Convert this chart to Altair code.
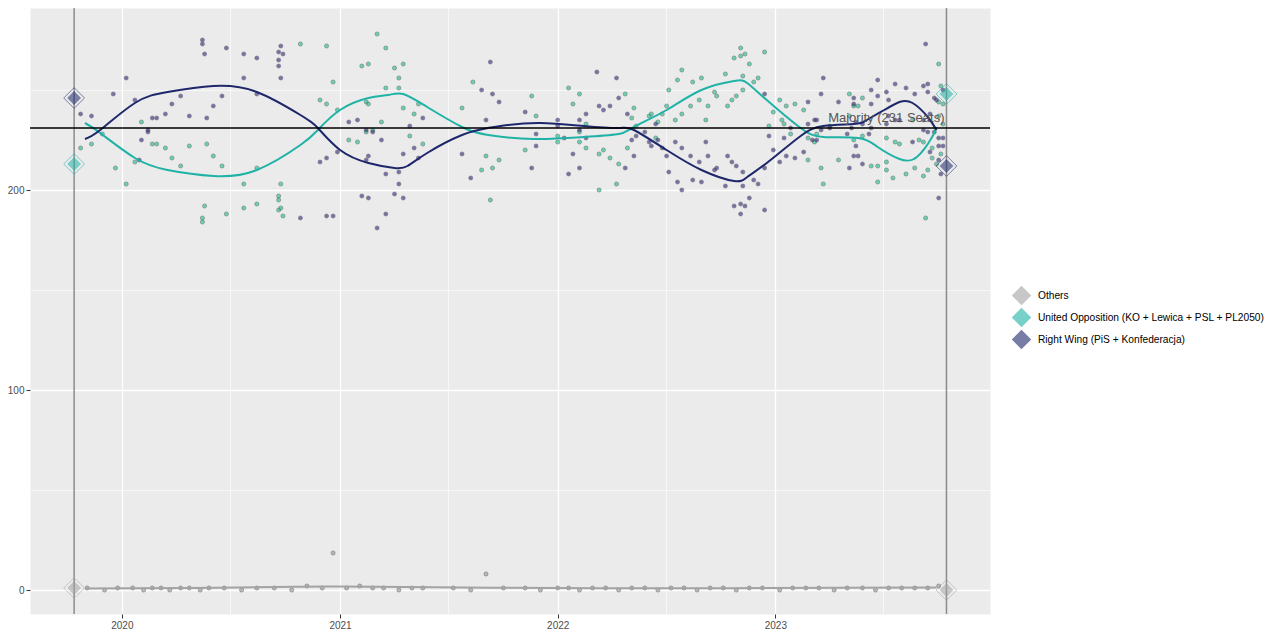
import altair as alt
import pandas as pd

OTH = "Others"
UO = "United Opposition (KO + Lewica + PSL + PL2050)"
RW = "Right Wing (PiS + Konfederacja)"
parties = [OTH, UO, RW]
line_colors = ["#a3a3a3", "#1fb3a6", "#1e276b"]
point_fills = ["#9a9a9a", "#1fc795", "#3b2f8a"]

# poll dates as decimal years, seat projections
rw_t = [2019.81, 2019.86, 2019.96, 2020.02, 2020.06, 2020.09, 2020.12, 2020.12, 2020.08, 2020.14,
        2020.16, 2020.20, 2020.23, 2020.27, 2020.31, 2020.37, 2020.37, 2020.38, 2020.39, 2020.42,
        2020.46, 2020.48, 2020.56, 2020.56, 2020.62, 2020.62, 2020.72, 2020.73, 2020.74, 2020.72,
        2020.72, 2020.73, 2020.82, 2020.91, 2020.94, 2020.94, 2020.97, 2020.99, 2021.04, 2021.08,
        2021.12, 2021.15, 2021.13, 2021.12, 2021.19, 2021.21, 2021.27, 2021.27, 2021.29, 2021.32,
        2021.34, 2021.36, 2021.38, 2021.10, 2021.13, 2021.25, 2021.29, 2021.21, 2021.17, 2021.69,
        2021.65, 2021.70, 2021.73, 2021.67, 2021.56, 2021.60, 2021.85, 2021.90, 2021.90, 2021.88,
        2022.00, 2022.00, 2022.03, 2022.10, 2022.13, 2022.10, 2022.13, 2022.07, 2022.05, 2022.10,
        2022.18, 2022.19, 2022.27, 2022.21, 2022.24, 2022.28, 2022.32, 2022.34, 2022.35, 2022.31,
        2022.36, 2022.40, 2022.42, 2022.43, 2022.45, 2022.46, 2022.48, 2022.50, 2022.51, 2022.54,
        2022.55, 2022.57, 2022.57, 2022.61, 2022.62, 2022.65, 2022.66, 2022.68, 2022.69, 2022.72,
        2022.73, 2022.78, 2022.80, 2022.82, 2022.85, 2022.85, 2022.90, 2022.92, 2022.77, 2022.81,
        2022.84, 2022.86, 2022.88, 2022.84, 2022.95, 2022.97, 2022.99, 2022.95, 2022.95, 2023.22,
        2023.21, 2023.29, 2023.15, 2023.18, 2023.19, 2023.15, 2023.07, 2023.04, 2023.05, 2023.09,
        2023.13, 2023.02, 2023.17, 2023.19, 2023.36, 2023.44, 2023.47, 2023.51, 2023.55, 2023.60,
        2023.64, 2023.68, 2023.70, 2023.69, 2023.70, 2023.73, 2023.74, 2023.77, 2023.47, 2023.52,
        2023.44, 2023.36, 2023.37, 2023.35, 2023.40, 2023.44, 2023.43, 2023.51, 2023.55, 2023.57,
        2023.52, 2023.33, 2023.37, 2023.36, 2023.38, 2023.34, 2023.40, 2023.63, 2023.68, 2023.70,
        2023.73, 2023.75, 2023.77, 2023.75, 2023.77, 2023.71, 2023.75, 2023.76, 2023.75, 2023.71,
        2023.68, 2023.25, 2023.21]
rw_v = [238, 237, 248, 256, 245, 225, 230, 229, 215, 236,
        236, 238, 243, 247, 237, 275, 273, 268, 236, 242,
        247, 271, 268, 256, 266, 248, 269, 272, 268, 265,
        262, 256, 186, 214, 216, 187, 187, 219, 234, 235,
        230, 229, 217, 215, 225, 208, 209, 203, 218, 232,
        221, 216, 236, 197, 196, 198, 196, 188, 181, 264,
        250, 248, 244, 235, 218, 206, 239, 228, 222, 211,
        235, 232, 226, 235, 238, 230, 226, 218, 208, 211,
        259, 242, 256, 240, 242, 246, 238, 225, 217, 211,
        227, 229, 224, 222, 233, 225, 221, 217, 209, 224,
        204, 200, 221, 217, 205, 214, 204, 224, 217, 210,
        211, 217, 214, 212, 209, 202, 205, 203, 202, 192,
        193, 192, 196, 188, 190, 227, 220, 211, 248, 256,
        248, 244, 244, 235, 235, 233, 231, 226, 217, 216,
        219, 214, 225, 225, 246, 250, 255, 249, 253, 251,
        248, 252, 253, 273, 249, 246, 245, 250, 247, 245,
        243, 243, 234, 231, 233, 231, 228, 233, 235, 235,
        237, 228, 222, 217, 217, 211, 213, 224, 230, 229,
        229, 226, 226, 222, 222, 219, 215, 208, 196, 238,
        235, 231, 230]

uo_t = [2019.81, 2019.86, 2019.91, 2019.97, 2020.02, 2020.06, 2020.09, 2020.14, 2020.16, 2020.20,
        2020.23, 2020.27, 2020.31, 2020.37, 2020.37, 2020.38, 2020.39, 2020.42, 2020.46, 2020.48,
        2020.56, 2020.56, 2020.82, 2020.94, 2020.97, 2020.91, 2020.94, 2020.62, 2020.73, 2020.72,
        2020.72, 2020.62, 2020.72, 2020.73, 2020.74, 2020.99, 2021.04, 2021.08, 2021.10, 2021.13,
        2021.17, 2021.21, 2021.12, 2021.13, 2021.12, 2021.15, 2021.19, 2021.25, 2021.29, 2021.27,
        2021.27, 2021.21, 2021.29, 2021.32, 2021.34, 2021.36, 2021.38, 2021.61, 2021.56, 2021.67,
        2021.73, 2021.65, 2021.70, 2021.69, 2021.88, 2021.90, 2021.85, 2022.00, 2022.00, 2022.05,
        2022.10, 2022.07, 2022.13, 2022.10, 2022.10, 2022.13, 2022.19, 2022.19, 2022.21, 2022.24,
        2022.28, 2022.27, 2022.31, 2022.32, 2022.34, 2022.35, 2022.36, 2022.42, 2022.43, 2022.45,
        2022.46, 2022.48, 2022.50, 2022.51, 2022.54, 2022.55, 2022.57, 2022.57, 2022.61, 2022.62,
        2022.65, 2022.66, 2022.68, 2022.69, 2022.72, 2022.73, 2022.77, 2022.78, 2022.80, 2022.82,
        2022.81, 2022.84, 2022.84, 2022.86, 2022.88, 2022.85, 2022.85, 2022.90, 2022.92, 2022.95,
        2022.99, 2022.97, 2023.02, 2023.05, 2023.09, 2023.13, 2023.03, 2023.04, 2023.07, 2023.15,
        2023.18, 2023.15, 2023.21, 2023.22, 2023.29, 2023.34, 2023.36, 2023.38, 2023.40, 2023.34,
        2023.40, 2023.36, 2023.44, 2023.47, 2023.47, 2023.51, 2023.51, 2023.51, 2023.55, 2023.57,
        2023.54, 2023.60, 2023.64, 2023.66, 2023.68, 2023.68, 2023.70, 2023.69, 2023.75, 2023.76,
        2023.75, 2023.77, 2023.75, 2023.77, 2023.72, 2023.74, 2023.76, 2023.72, 2023.63, 2023.25,
        2023.19]
uo_v = [221, 223, 228, 211, 203, 214, 234, 223, 223, 221,
        216, 212, 222, 186, 184, 192, 223, 217, 212, 188,
        191, 203, 273, 272, 254, 245, 243, 211, 203, 197,
        195, 193, 190, 191, 187, 240, 225, 224, 262, 263,
        278, 271, 244, 243, 229, 230, 234, 261, 263, 256,
        251, 251, 241, 227, 238, 243, 223, 254, 241, 217,
        215, 210, 211, 195, 247, 237, 220, 227, 224, 251,
        248, 243, 233, 229, 224, 221, 218, 200, 220, 216,
        213, 203, 248, 221, 236, 241, 232, 237, 238, 226,
        234, 238, 242, 250, 235, 255, 260, 238, 242, 254,
        245, 256, 235, 242, 249, 247, 258, 242, 245, 247,
        266, 271, 267, 268, 263, 250, 257, 254, 256, 269,
        239, 232, 245, 242, 243, 240, 235, 233, 228, 226,
        224, 215, 211, 203, 215, 248, 242, 242, 246, 237,
        227, 225, 212, 204, 212, 214, 210, 226, 224, 223,
        206, 208, 211, 225, 224, 207, 210, 186, 263, 252,
        244, 243, 237, 233, 216, 213, 218, 221, 235, 232,
        228]

oth_t = [2019.84, 2019.92, 2019.98, 2020.05, 2020.10, 2020.14, 2020.18, 2020.22, 2020.27, 2020.31,
         2020.36, 2020.40, 2020.47, 2020.55, 2020.62, 2020.70, 2020.78, 2020.85, 2020.92, 2020.97,
         2021.03, 2021.09, 2021.15, 2021.20, 2021.27, 2021.33, 2021.38, 2021.52, 2021.60, 2021.67,
         2021.75, 2021.85, 2021.92, 2022.00, 2022.05, 2022.10, 2022.16, 2022.22, 2022.28, 2022.34,
         2022.40, 2022.46, 2022.52, 2022.58, 2022.64, 2022.70, 2022.76, 2022.82, 2022.88, 2022.94,
         2023.02, 2023.08, 2023.14, 2023.20, 2023.27, 2023.33, 2023.40, 2023.46, 2023.52, 2023.58,
         2023.64, 2023.70, 2023.75]
oth_v = [1, 0, 1, 1, 0, 1, 1, 0, 1, 1,
         0, 1, 1, 0, 1, 1, 0, 2, 1, 18.5,
         1, 2, 1, 1, 0, 1, 1, 1, 0, 8,
         1, 1, 0, 1, 1, 0, 1, 1, 0, 1,
         1, 0, 1, 1, 0, 1, 1, 0, 1, 1,
         0, 1, 1, 1, 0, 1, 1, 0, 1, 1,
         1, 1, 2]

# smoothed trend lines
rw_curve_t = [2019.83, 2019.90, 2020.06, 2020.21, 2020.42, 2020.62, 2020.82, 2020.90, 2021.00, 2021.13,
              2021.25, 2021.31, 2021.40, 2021.56, 2021.68, 2021.77, 2021.92, 2022.12, 2022.28, 2022.35,
              2022.50, 2022.66, 2022.81, 2022.87, 2022.96, 2023.11, 2023.22, 2023.36, 2023.42, 2023.50,
              2023.57, 2023.63, 2023.70, 2023.74]
rw_curve_v = [225.5, 230, 243.5, 249, 252, 249, 237.5, 231, 220, 213.5,
              211, 212, 218.5, 227.5, 231, 232.5, 233.5, 232, 231, 230,
              220, 210, 204.5, 206.5, 213.5, 226.5, 232, 233, 235, 240,
              244, 243.5, 236.5, 230]
uo_curve_t = [2019.83, 2019.90, 2020.06, 2020.21, 2020.42, 2020.62, 2020.82, 2020.90, 2021.00, 2021.13,
              2021.22, 2021.29, 2021.40, 2021.56, 2021.68, 2021.89, 2022.12, 2022.28, 2022.35, 2022.50,
              2022.66, 2022.81, 2022.87, 2022.96, 2023.11, 2023.22, 2023.38, 2023.47, 2023.57, 2023.65,
              2023.72, 2023.74]
uo_curve_v = [233.5, 228.5, 216, 210, 207, 210, 222.5, 230, 240, 246,
              247.5, 248, 241.5, 231.5, 227.5, 225.5, 226.5, 228, 231.5, 240,
              250, 254.5, 253.5, 245, 231.5, 226.5, 226, 221.5, 215.5, 216.5,
              226.5, 231.5]
oth_curve_t = [2019.83, 2020.30, 2020.80, 2021.00, 2021.30, 2021.70, 2022.20, 2022.80, 2023.30, 2023.74]
oth_curve_v = [0.8, 1.0, 1.6, 1.7, 1.5, 1.1, 0.9, 0.9, 1.1, 1.2]

# election results
elections = ["2019-10-13", "2023-10-15"]
result_rw = [246, 212]
result_uo = [213, 248]
result_oth = [1, 0]

MAJORITY = 231
FONT = "Liberation Sans"


def to_dates(years):
    out = []
    for y in years:
        out.append(pd.Timestamp(int(y), 1, 1) + pd.Timedelta(days=(y - int(y)) * 365.25))
    return out


def frame(t, v, party):
    return pd.DataFrame({"date": to_dates(t), "seats": v, "party": party})


poll_frames = [frame(oth_t, oth_v, OTH), frame(uo_t, uo_v, UO), frame(rw_t, rw_v, RW)]
trends = pd.concat([frame(oth_curve_t, oth_curve_v, OTH),
                    frame(uo_curve_t, uo_curve_v, UO),
                    frame(rw_curve_t, rw_curve_v, RW)])
results = pd.DataFrame({
    "date": pd.to_datetime(elections * 3),
    "seats": result_oth + result_uo + result_rw,
    "party": [OTH] * 2 + [UO] * 2 + [RW] * 2,
})

tick_dates = []
for yr in range(2019, 2024):
    for mo in (1, 7):
        if (yr, mo) != (2019, 1):
            tick_dates.append(alt.DateTime(year=yr, month=mo, date=1))

x_axis = alt.Axis(
    title=None, values=tick_dates, domain=False,
    labelExpr="month(datum.value) == 0 ? timeFormat(datum.value, '%Y') : ''",
    gridColor="white",
    gridWidth={"condition": {"test": "month(datum.value) == 0", "value": 1.3}, "value": 0.6},
    tickOpacity={"condition": {"test": "month(datum.value) == 0", "value": 1}, "value": 0},
    tickColor="#333333", tickSize=4, labelPadding=2,
    labelColor="#4d4d4d", labelFontSize=10, labelFont=FONT,
)
y_axis = alt.Axis(
    title=None, values=[0, 50, 100, 150, 200, 250], domain=False,
    labelExpr="datum.value % 100 == 0 ? datum.label : ''",
    gridColor="white",
    gridWidth={"condition": {"test": "datum.value % 100 == 0", "value": 1.3}, "value": 0.6},
    tickOpacity={"condition": {"test": "datum.value % 100 == 0", "value": 1}, "value": 0},
    tickColor="#333333", tickSize=4, labelPadding=2,
    labelColor="#4d4d4d", labelFontSize=10, labelFont=FONT,
)

x = alt.X("date:T", axis=x_axis,
          scale=alt.Scale(domain=[alt.DateTime(year=2019, month=7, date=31),
                                  alt.DateTime(year=2023, month=12, date=27)]))
y = alt.Y("seats:Q", axis=y_axis, scale=alt.Scale(domain=[-12, 291], nice=False, zero=False))

legend = alt.Legend(title=None, orient="none", legendX=982, legendY=278,
                    symbolType="diamond", symbolSize=300, symbolOpacity=0.6,
                    labelFontSize=10.2, labelFont=FONT, labelColor="black", labelLimit=400,
                    rowPadding=-5.5, labelOffset=7, padding=0)
color = alt.Color("party:N", scale=alt.Scale(domain=parties, range=line_colors), legend=legend)

# one point layer per party, so the fill colour needs no scale of its own
point_layers = []
for df, fill in zip(poll_frames, point_fills):
    point_layers.append(
        alt.Chart(df).mark_circle(size=17, opacity=0.65, stroke="#3a3a3a", strokeWidth=0.6)
        .encode(x=x, y=y, fill=alt.value(fill))
    )

lines = alt.Chart(trends).mark_line(strokeWidth=2, interpolate="natural").encode(
    x=x, y=y, color=color, detail="party:N",
)

election_rules = alt.Chart(pd.DataFrame({"date": pd.to_datetime(elections)})).mark_rule(
    color="#8c8c8c", strokeWidth=1.5
).encode(x=x)

majority = alt.Chart(pd.DataFrame({"seats": [MAJORITY]})).mark_rule(
    color="black", strokeWidth=1.5
).encode(y=y)

majority_label = alt.Chart(pd.DataFrame({
    "date": pd.to_datetime([elections[1]]), "seats": [MAJORITY], "label": ["Majority (231 Seats)"]
})).mark_text(align="right", baseline="bottom", dx=-2, dy=-3, fontSize=13,
              color="#555555", font=FONT).encode(x=x, y=y, text="label:N")

outer = alt.Chart(results).mark_point(shape="diamond", size=430, strokeWidth=1, opacity=0.55).encode(
    x=x, y=y, color=color,
)
inner = alt.Chart(results).mark_point(shape="diamond", size=190, filled=True, opacity=0.55).encode(
    x=x, y=y, color=color,
)

chart = alt.layer(*point_layers, lines, election_rules, majority, majority_label, outer, inner).properties(
    width=960, height=606,
    autosize=alt.AutoSizeParams(type="none"),
    padding={"left": 22, "top": 0, "right": 282, "bottom": 16},
    background="white",
).configure_view(fill="#EBEBEB", strokeOpacity=0)

chart.save("out.html", embed_options={"renderer": "svg", "actions": False})
